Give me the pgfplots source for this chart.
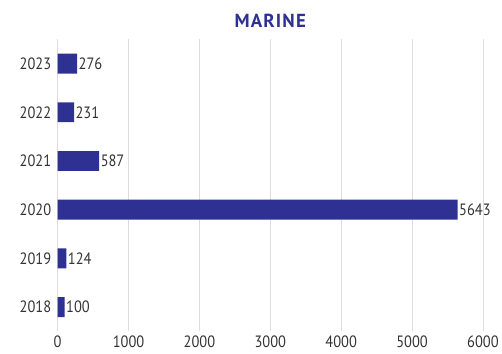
\documentclass[border=0pt]{standalone}
\usepackage{fontspec}
\setmainfont[FakeStretch=0.88]{PT Sans}
\newfontfamily\titlefont[LetterSpace=6]{PT Sans}
\usepackage{pgfplots}
\pgfplotsset{compat=1.18}
\definecolor{barblue}{HTML}{2E3192}
\definecolor{txt}{HTML}{333333}
\definecolor{gridc}{HTML}{DDDDDD}
\begin{document}
\begin{tikzpicture}[x=1pt,y=1pt]
\begin{axis}[
  scale only axis,
  width=428pt, height=294pt,
  xbar,
  bar width=20pt,
  xmin=0, xmax=6000,
  ymin=-0.5, ymax=5.5,
  ytick={0,1,2,3,4,5},
  yticklabels={2018,2019,2020,2021,2022,2023},
  xtick={0,1000,2000,3000,4000,5000,6000},
  axis line style={draw=none},
  major tick length=0pt,
  xmajorgrids, ymajorgrids=false,
  grid style={gridc, line width=0.8pt},
  /pgf/number format/assume math mode=true,
  /pgf/number format/1000 sep={},
  tick label style={font=\fontsize{16.5}{19}\selectfont, text=txt},
  xticklabel style={yshift=-1pt},
  yticklabel style={xshift=-3pt},
  nodes near coords,
  nodes near coords style={font=\fontsize{16.5}{19}\selectfont, text=txt, anchor=west, xshift=-2pt},
  point meta=explicit symbolic,
  title={\titlefont\bfseries MARINE},
  title style={font=\fontsize{19}{22}\selectfont, text=barblue, yshift=2pt},
]
\addplot[fill=barblue, draw=none] coordinates {
  (100,0) [100]
  (124,1) [124]
  (5643,2) [5643]
  (587,3) [587]
  (231,4) [231]
  (276,5) [276]
};
\end{axis}
\path (current axis.south west) ++(-58pt,-22.5pt) rectangle ++(502pt,356pt);
\end{tikzpicture}
\end{document}
